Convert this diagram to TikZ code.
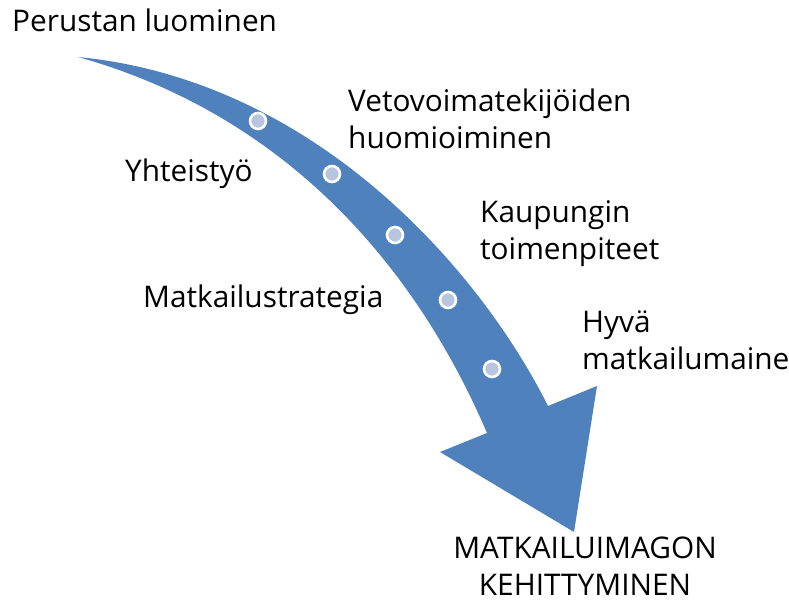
\documentclass[tikz,border=0pt]{standalone}
\usepackage{fontspec}
\setmainfont{Open Sans}
\definecolor{arrowblue}{RGB}{79,129,189}
\definecolor{dotblue}{RGB}{183,197,222}
\begin{document}
\begin{tikzpicture}[x=1pt,y=-1pt,line join=round,
  label/.style={inner sep=0pt,align=left,font=\fontsize{29.8}{37}\selectfont},
  stepdot/.style={fill=dotblue,draw=white,line width=2.6pt}]
  \useasboundingbox (0,0) rectangle (789,601);
  % curved arrow
  \fill[arrowblue] (78,57) .. controls (315,80) and (480,270) .. (548,406)
    -- (597,386) -- (574,532) -- (440,452) -- (487,433)
    .. controls (415,265) and (285,115) .. (78,57) -- cycle;
  % dots along the arrow
  \foreach \x/\y in {258/121,332/174,395/235,448/300,492/369}
    \draw[stepdot] (\x,\y) circle (8pt);
  % labels (base = last line)
  \node[label,anchor=base west] (perustan) at (12,32) {Perustan luominen};
  \node[label,anchor=base west] (veto) at (348,149) {Vetovoimatekijöiden\\huomioiminen};
  \node[label,anchor=base west] (yhteis) at (125,182) {Yhteistyö};
  \node[label,anchor=base west] (kaup) at (480,260) {Kaupungin\\toimenpiteet};
  \node[label,anchor=base west] (strat) at (143,308) {Matkailustrategia};
  \node[label,anchor=base west] (maine) at (582,369) {Hyvä\\matkailumaine};
  \node[label,align=center,anchor=base] (imago) at (585,595) {MATKAILUIMAGON\\KEHITTYMINEN};
\end{tikzpicture}
\end{document}
